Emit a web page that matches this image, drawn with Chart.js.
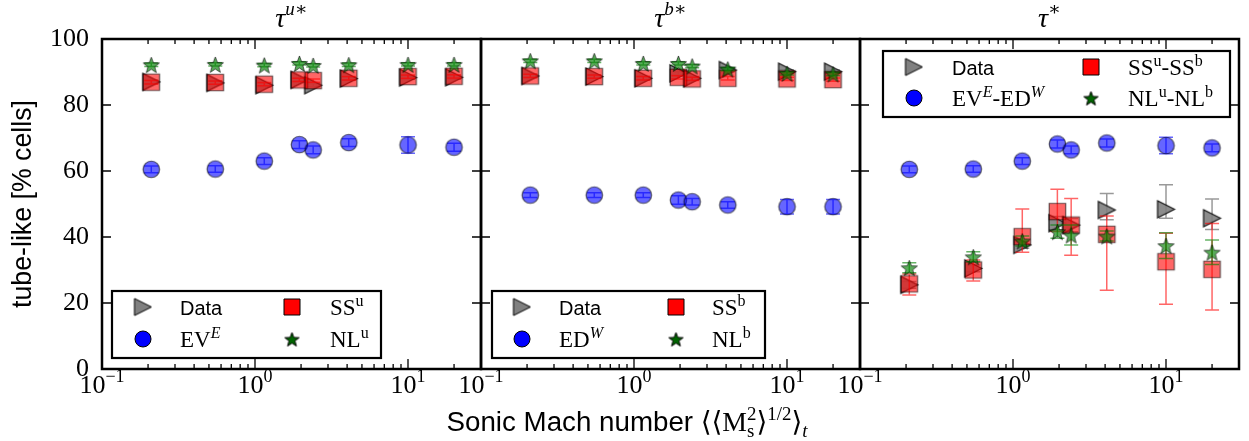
<!DOCTYPE html>
<html>
<head>
<meta charset="utf-8">
<script src="https://cdn.jsdelivr.net/npm/chart.js@4.4.0/dist/chart.umd.min.js"></script>
<style>
  html, body { margin: 0; padding: 0; background: #fff; }
  #wrap { position: relative; width: 1249px; height: 441px; }
  #wrap canvas { position: absolute; left: 0; top: 0; }
</style>
</head>
<body>
<div id="wrap">
  <canvas id="panelU" width="1249" height="441"></canvas>
  <canvas id="panelB" width="1249" height="441"></canvas>
  <canvas id="panelC" width="1249" height="441"></canvas>
</div>
<script>
/* ===========================
   Tube-like cells vs sonic Mach number (3 panels)
   =========================== */

// ---- Data ----
const machNumber   = [0.21, 0.55, 1.15, 1.95, 2.4, 4.1, 10, 20];
const xTickDecades = [0.1, 1, 10];
const yTickValues  = [0, 20, 40, 60, 80, 100];

// tau^{u*}
const dataU    = [87.0, 86.7, 86.0, 87.6, 86.0, 88.0, 88.3, 88.4];
const evE      = [60.5, 60.6, 63.0, 68.0, 66.4, 68.6, 67.9, 67.2];
const evEErr   = [1.0, 1.0, 1.0, 1.2, 1.2, 1.2, 2.5, 1.2];
const ssU      = [86.9, 86.8, 86.3, 87.6, 87.4, 88.1, 88.6, 88.7];
const nlU      = [92.2, 92.3, 92.1, 92.6, 92.0, 92.2, 92.3, 92.3];

// tau^{b*}
const dataB    = [88.8, 88.6, 88.1, 89.6, 88.1, 90.6, 90.1, 90.1];
const edW      = [52.7, 52.7, 52.7, 51.2, 50.7, 49.7, 49.2, 49.2];
const edWErr   = [0.7, 0.7, 0.7, 1.3, 1.0, 1.0, 2.2, 2.2];
const ssB      = [88.8, 88.6, 88.1, 88.4, 87.9, 88.1, 87.9, 87.7];
const nlB      = [93.4, 93.4, 92.6, 92.6, 91.8, 90.9, 89.6, 89.4];
const smallErr = [0.5, 0.5, 0.5, 0.5, 0.5, 0.5, 0.5, 0.5];

// tau^*
const dataC     = [25.5, 30.5, 37.6, 44.2, 43.6, 48.2, 48.4, 45.7];
const dataCUp   = [1.0, 1.0, 1.0, 2.0, 2.0, 5.0, 7.4, 5.8];
const dataCDown = [1.0, 1.0, 1.0, 2.0, 2.0, 3.0, 2.7, 3.4];
const evC       = [60.5, 60.6, 63.0, 68.2, 66.4, 68.5, 67.7, 67.0];
const evCErr    = [1.0, 1.0, 1.0, 1.2, 1.2, 1.2, 2.5, 1.2];
const ssC       = [25.8, 30.0, 40.1, 47.7, 43.6, 40.8, 32.5, 30.2];
const ssCUp     = [3.0, 3.0, 8.4, 6.8, 8.1, 5.6, 8.6, 13.9];
const ssCDown   = [3.4, 3.3, 4.7, 6.0, 9.1, 16.9, 12.9, 12.3];
const nlC       = [30.7, 34.0, 38.8, 41.6, 40.6, 40.3, 37.4, 35.4];
const nlCErr    = [1.5, 1.5, 1.5, 2.0, 3.0, 1.5, 3.9, 3.7];

// ---- Layout ----
const W = 1249, H = 441;
const PLOT_TOP = 39, PLOT_BOTTOM = 369;
const PANELS = [[102, 481], [481, 860], [860, 1239]];
const SERIF = '"Liberation Serif", "DejaVu Serif", serif';
const SANS  = '"Liberation Sans", Arial, sans-serif';
const CAP = 7;
const YLABEL = 'tube-like [% cells]';

// scratch context for fitting text widths to the reference
const measureCtx = document.createElement('canvas').getContext('2d');

// ---- Marker images ----
function makeMarker(shape, size, fill, stroke, lw) {
  const c = document.createElement('canvas');
  const s = Math.ceil(size + 4);
  c.width = c.height = s;
  const g = c.getContext('2d');
  const m = s / 2, h = size / 2;
  g.beginPath();
  if (shape === 'circ') {
    g.arc(m, m, h, 0, Math.PI * 2);
  } else if (shape === 'sq') {
    g.rect(m - h, m - h, size, size);
  } else if (shape === 'tri') {
    g.moveTo(m + h, m); g.lineTo(m - h, m - h); g.lineTo(m - h, m + h);
  } else if (shape === 'star') {
    for (let i = 0; i < 10; i++) {
      const r = i % 2 ? h * 0.42 : h;
      const a = -Math.PI / 2 + i * Math.PI / 5;
      g.lineTo(m + r * Math.cos(a), m + 1 + r * Math.sin(a));
    }
  }
  g.closePath();
  g.fillStyle = fill; g.fill();
  g.lineWidth = lw; g.strokeStyle = stroke; g.stroke();
  return c;
}

const MK = {
  tri:  makeMarker('tri', 17, 'rgba(128,128,128,0.9)', 'rgba(0,0,0,0.9)', 1.2),
  circ: makeMarker('circ', 16.5, 'rgba(0,0,255,0.6)', 'rgba(0,0,0,0.6)', 1.2),
  sq:   makeMarker('sq', 16.5, 'rgba(255,0,0,0.6)', 'rgba(0,0,0,0.6)', 1.2),
  star: makeMarker('star', 17, 'rgba(0,128,0,0.65)', 'rgba(0,0,0,0.6)', 1)
};
const LEG = {
  tri:  makeMarker('tri', 17, '#808080', '#000', 1),
  circ: makeMarker('circ', 16, '#0000ff', '#000', 1),
  sq:   makeMarker('sq', 16, '#ff0000', '#000', 1),
  star: makeMarker('star', 15, '#006400', '#000', 1)
};
const ERR_COLOR = {
  tri: 'rgba(128,128,128,0.8)', circ: 'rgba(0,0,255,0.6)',
  sq: 'rgba(255,0,0,0.6)', star: 'rgba(0,128,0,0.6)'
};

// ---- Rich text (super/subscripts) ----
function segFont(sg, k) {
  return (sg.it ? 'italic ' : '') + (sg.size * (k || 1)) + 'px ' + (sg.sans ? SANS : SERIF);
}
function richWidth(ctx, segs, k) {
  let w = 0;
  segs.forEach(sg => { ctx.font = segFont(sg, k); if (!sg.noAdv) w += ctx.measureText(sg.t).width; });
  return w;
}
function drawRich(ctx, segs, x, y, align, k) {
  k = k || 1;
  if (align === 'center') x -= richWidth(ctx, segs, k) / 2;
  ctx.textAlign = 'left';
  ctx.textBaseline = 'alphabetic';
  segs.forEach(sg => {
    ctx.font = segFont(sg, k);
    ctx.fillText(sg.t, x, y + (sg.dy || 0) * k);
    if (!sg.noAdv) x += ctx.measureText(sg.t).width;
  });
}
const N = (t) => ({ t, size: 23 });
const SUP = (t, it) => ({ t, size: 16, dy: -9, it });

const X_LABEL = [
  { t: 'Sonic Mach number ', size: 22, sans: true },
  { t: '\u27E8\u27E8M', size: 22 },
  { t: 's', size: 15, dy: 5, noAdv: true },
  { t: '2', size: 15, dy: -9 },
  { t: '\u27E9', size: 22 },
  { t: '1/2', size: 15, dy: -9 },
  { t: '\u27E9', size: 22 },
  { t: 't', size: 15, dy: 5, it: true }
];
// reference: x label spans ~447..808, y label ~208 px long
const xLabelScale = 361 / richWidth(measureCtx, X_LABEL, 1);
measureCtx.font = '22px ' + SANS;
const yLabelSize = 22 * 208 / measureCtx.measureText(YLABEL).width;

// ---- Decorations: frame, inward ticks, tick labels, title, legend, error bars ----
const decoPlugin = {
  id: 'deco',
  beforeDatasetDraw(chart, args) {
    const ds = chart.data.datasets[args.index];
    if (!ds.errUp) return;
    const ys = chart.scales.y, ctx = chart.ctx;
    ctx.save();
    ctx.strokeStyle = ds.errColor;
    ctx.lineWidth = 1.5;
    args.meta.data.forEach((pt, i) => {
      const v = ds.data[i].y;
      const yt = ys.getPixelForValue(v + ds.errUp[i]);
      const yb = ys.getPixelForValue(v - ds.errDown[i]);
      ctx.beginPath();
      ctx.moveTo(pt.x, yt); ctx.lineTo(pt.x, yb);
      ctx.moveTo(pt.x - CAP, yt); ctx.lineTo(pt.x + CAP, yt);
      ctx.moveTo(pt.x - CAP, yb); ctx.lineTo(pt.x + CAP, yb);
      ctx.stroke();
    });
    ctx.restore();
  },
  afterDraw(chart, args, opts) {
    const ctx = chart.ctx, a = chart.chartArea;
    const xs = chart.scales.x, ys = chart.scales.y;
    ctx.save();
    ctx.strokeStyle = '#000';
    ctx.fillStyle = '#000';

    // ticks (inward, all four sides)
    ctx.lineWidth = 1.3;
    ctx.beginPath();
    xTickDecades.forEach(d => {
      for (let k = 1; k <= 9; k++) {
        const v = d * k;
        if (v > xs.max) break;
        const px = xs.getPixelForValue(v);
        const len = k === 1 ? 10 : 5;
        ctx.moveTo(px, a.bottom); ctx.lineTo(px, a.bottom - len);
        ctx.moveTo(px, a.top); ctx.lineTo(px, a.top + len);
      }
    });
    yTickValues.forEach(v => {
      const py = ys.getPixelForValue(v);
      ctx.moveTo(a.left, py); ctx.lineTo(a.left + 9, py);
      ctx.moveTo(a.right, py); ctx.lineTo(a.right - 9, py);
    });
    ctx.stroke();

    // frame
    ctx.lineWidth = 2.5;
    ctx.strokeRect(a.left, a.top, a.right - a.left, a.bottom - a.top);

    // x tick labels 10^k
    xTickDecades.forEach(d => {
      const e = Math.round(Math.log10(d));
      const segs = [{ t: '10', size: 26 }, { t: e < 0 ? '\u2212' + (-e) : String(e), size: 18, dy: -11 }];
      drawRich(ctx, segs, xs.getPixelForValue(d), 393, 'center');
    });

    // panel title
    drawRich(ctx, opts.title, (a.left + a.right) / 2, 27, 'center');

    // legend
    const L = opts.legend;
    ctx.fillStyle = '#fff';
    ctx.fillRect(L.box[0], L.box[1], L.box[2], L.box[3]);
    ctx.lineWidth = 2.2;
    ctx.strokeRect(L.box[0], L.box[1], L.box[2], L.box[3]);
    ctx.fillStyle = '#000';
    L.items.forEach(it => {
      const img = LEG[it.mk];
      ctx.drawImage(img, it.mx - img.width / 2, it.my - img.height / 2);
      drawRich(ctx, it.segs, it.tx, it.my + 8, 'left');
    });

    // shared axis label
    if (opts.xLabel) drawRich(ctx, X_LABEL, 627, 431, 'center', xLabelScale);
    ctx.restore();
  }
};

// ---- Build datasets ----
function series(label, mk, vals, up, down, order) {
  return {
    label,
    data: machNumber.map((x, i) => ({ x, y: vals[i] })),
    pointStyle: MK[mk],
    pointRadius: 9,
    showLine: false,
    order,
    errUp: up,
    errDown: down || up,
    errColor: ERR_COLOR[mk]
  };
}

function legendItems(col1x, col2x, row1, row2, labels) {
  const [mx1, tx1] = col1x, [mx2, tx2] = col2x;
  return [
    { mk: 'tri',  mx: mx1, tx: tx1, my: row1, segs: labels[0] },
    { mk: 'circ', mx: mx1, tx: tx1, my: row2, segs: labels[1] },
    { mk: 'sq',   mx: mx2, tx: tx2, my: row1, segs: labels[2] },
    { mk: 'star', mx: mx2, tx: tx2, my: row2, segs: labels[3] }
  ];
}
const DATA_LABEL = [{ t: 'Data', size: 20, sans: true }];

function makePanel(id, idx, datasets, deco) {
  const [left, right] = PANELS[idx];
  const showY = idx === 0;
  const yScale = { min: 0, max: 100, display: showY };
  if (showY) {
    Object.assign(yScale, {
      afterFit: s => { s.width = left; },
      grid: { display: false, drawTicks: false },
      border: { display: false },
      ticks: { stepSize: 20, padding: 13, color: '#000', font: { family: SERIF, size: 26 } },
      title: { display: true, text: YLABEL, color: '#000',
               font: { family: SANS, size: yLabelSize }, padding: { top: 8, bottom: 0 } }
    });
  }
  return new Chart(document.getElementById(id), {
    type: 'scatter',
    data: { datasets },
    options: {
      responsive: false,
      animation: false,
      events: [],
      layout: { padding: { left: showY ? 0 : left, right: W - right, top: PLOT_TOP, bottom: H - PLOT_BOTTOM } },
      plugins: { legend: { display: false }, tooltip: { enabled: false }, deco },
      scales: {
        x: { type: 'logarithmic', min: 0.1, max: 30, display: false },
        y: yScale
      }
    },
    plugins: [decoPlugin]
  });
}

document.addEventListener('DOMContentLoaded', () => {
  makePanel('panelU', 0, [
    series('Data', 'tri', dataU, smallErr, null, 3),
    series('EV^E', 'circ', evE, evEErr, null, 2),
    series('SS^u', 'sq', ssU, smallErr, null, 1),
    series('NL^u', 'star', nlU, smallErr, null, 0)
  ], {
    title: [{ t: '\u03C4', size: 28, it: true }, { t: 'u\u2217', size: 19, dy: -12, it: true }],
    legend: {
      box: [112, 291, 269, 67],
      items: legendItems([143, 180], [292, 330], 307, 339, [
        DATA_LABEL, [N('EV'), SUP('E', true)], [N('SS'), SUP('u')], [N('NL'), SUP('u')]
      ])
    }
  });

  makePanel('panelB', 1, [
    series('Data', 'tri', dataB, smallErr, null, 3),
    series('ED^W', 'circ', edW, edWErr, null, 2),
    series('SS^b', 'sq', ssB, smallErr, null, 1),
    series('NL^b', 'star', nlB, smallErr, null, 0)
  ], {
    title: [{ t: '\u03C4', size: 28, it: true }, { t: 'b\u2217', size: 19, dy: -12, it: true }],
    legend: {
      box: [492, 291, 273, 67],
      items: legendItems([522, 559], [676, 712], 307, 339, [
        DATA_LABEL, [N('ED'), SUP('W', true)], [N('SS'), SUP('b')], [N('NL'), SUP('b')]
      ])
    }
  });

  makePanel('panelC', 2, [
    series('Data', 'tri', dataC, dataCUp, dataCDown, 3),
    series('EV^E-ED^W', 'circ', evC, evCErr, null, 2),
    series('SS^u-SS^b', 'sq', ssC, ssCUp, ssCDown, 1),
    series('NL^u-NL^b', 'star', nlC, nlCErr, null, 0)
  ], {
    title: [{ t: '\u03C4', size: 28, it: true }, { t: '\u2217', size: 19, dy: -12 }],
    xLabel: true,
    legend: {
      box: [883, 51, 347, 66],
      items: legendItems([914, 952], [1091, 1128], 67, 98, [
        DATA_LABEL,
        [N('EV'), SUP('E', true), N('-ED'), SUP('W', true)],
        [N('SS'), SUP('u'), N('-SS'), SUP('b')],
        [N('NL'), SUP('u'), N('-NL'), SUP('b')]
      ])
    }
  });
});
</script>
</body>
</html>
